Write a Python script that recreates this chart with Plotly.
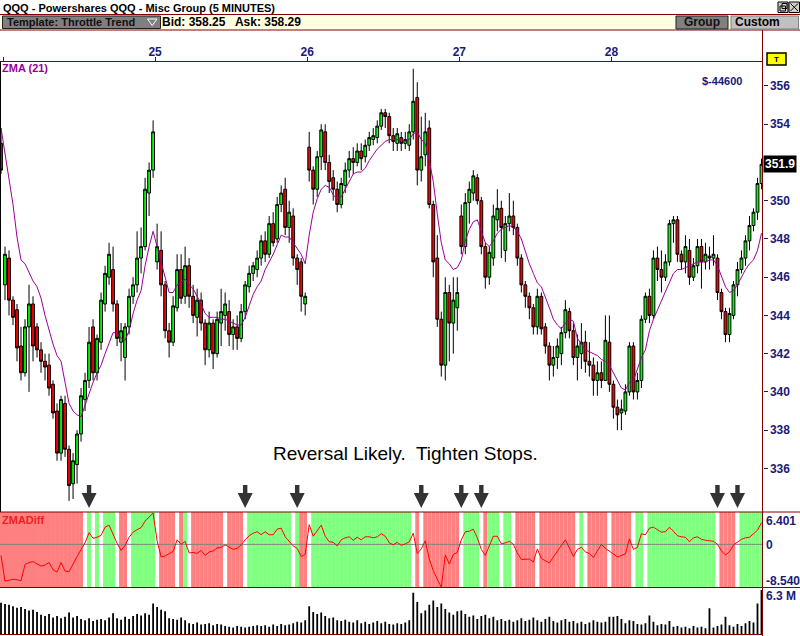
import plotly.graph_objects as go

# ---------------- data ----------------
DAY_LABELS = ["", "25", "26", "27", "28"]
DAY_TICK_BARS = [0.5, 38.5, 76.5, 114.5, 152.5]
# 352 is hidden behind the last-price box in the reference
PRICE_TICKS = [336, 338, 340, 342, 344, 346, 348, 350, 354, 356]

OPEN = [
    353.0, 345.6, 347.0, 344.8, 344.3, 342.4, 341.0, 343.4, 344.6, 343.4,
    342.2, 341.6, 341.4, 340.4, 339.0, 336.8, 339.4, 337.0, 335.2, 336.2,
    337.8, 339.6, 340.6, 343.4, 341.0, 342.6, 344.6, 346.0, 346.4, 344.6,
    342.6, 341.8, 343.4, 345.0, 345.6, 347.0, 347.6, 350.4, 351.6, 346.8,
    347.4, 345.6, 343.2, 342.6, 344.4, 346.4, 345.0, 346.6, 345.0, 343.9,
    344.8, 343.6, 342.2, 343.6, 342.0, 343.6, 344.0, 344.2, 343.0, 343.4,
    342.8, 344.2, 345.5, 346.2, 346.4, 347.0, 347.9, 347.2, 348.8, 348.0,
    349.8, 350.6, 348.6, 349.2, 347.0, 346.8, 344.6, 352.8, 351.6, 350.6,
    352.3, 353.6, 352.0, 351.2, 350.6, 349.8, 350.8, 351.6, 352.2, 352.0,
    352.6, 352.3, 352.9, 353.2, 353.3, 353.9, 354.6, 354.4, 353.4, 353.0,
    353.3, 353.0, 352.9, 353.6, 355.4, 351.6, 352.4, 353.8, 349.8, 347.0,
    343.8, 341.4, 345.2, 343.6, 344.4, 349.2, 347.6, 349.9, 350.4, 351.2,
    350.0, 347.6, 346.0, 347.0, 349.0, 349.6, 347.4, 348.8, 349.2, 348.6,
    347.0, 345.6, 345.0, 344.4, 343.4, 345.0, 343.4, 342.4, 341.4, 341.8,
    342.0, 343.1, 344.2, 343.2, 341.8, 342.0, 342.6, 341.6, 341.4, 340.6,
    341.0, 340.6, 342.6, 340.4, 339.2, 338.9, 339.0, 340.0, 342.4, 340.0,
    340.6, 343.8, 345.0, 344.0, 347.0, 346.4, 346.0, 346.8, 348.8, 349.0,
    347.2, 346.8, 347.4, 346.0, 346.6, 347.6, 346.8, 347.1, 347.0, 347.0,
    345.2, 344.2, 343.0, 344.0, 345.6, 346.4, 347.0, 347.9, 348.7, 349.4,
    350.9,
]
HIGH = [
    353.8, 347.6, 347.4, 345.0, 344.6, 343.4, 343.8, 345.6, 345.0, 343.6,
    342.6, 342.0, 342.0, 340.6, 339.4, 339.8, 339.8, 337.2, 336.8, 338.0,
    340.2, 341.0, 343.4, 343.8, 343.0, 345.2, 346.6, 347.8, 347.6, 344.8,
    343.6, 343.6, 345.4, 346.0, 348.4, 348.6, 351.2, 352.0, 354.2, 348.8,
    348.4, 345.8, 343.6, 345.0, 347.2, 347.2, 347.6, 347.0, 345.6, 345.4,
    345.2, 343.8, 344.2, 343.8, 344.2, 345.4, 345.2, 344.8, 343.8, 344.0,
    344.6, 345.8, 346.6, 346.8, 347.4, 348.2, 348.4, 349.2, 349.4, 350.2,
    350.8, 351.2, 350.0, 349.6, 347.2, 347.0, 345.2, 353.6, 351.8, 352.6,
    354.0, 354.0, 352.4, 351.6, 351.0, 351.2, 352.0, 352.6, 352.8, 353.0,
    353.0, 353.2, 353.6, 353.8, 354.2, 354.8, 354.8, 354.6, 353.8, 353.8,
    353.6, 353.6, 354.0, 356.9, 356.2, 354.4, 354.6, 354.2, 350.0, 348.2,
    344.2, 346.0, 345.6, 346.0, 346.0, 349.8, 350.4, 351.0, 351.6, 351.4,
    350.2, 347.8, 347.6, 349.8, 350.6, 350.0, 349.2, 350.4, 350.0, 348.8,
    347.2, 345.8, 345.2, 344.6, 345.4, 345.2, 343.6, 342.6, 342.4, 342.8,
    343.4, 344.8, 344.4, 343.6, 343.0, 343.6, 343.2, 342.6, 341.8, 341.6,
    341.6, 344.0, 344.0, 340.6, 339.6, 339.6, 340.4, 342.6, 342.6, 341.0,
    344.0, 345.2, 345.4, 347.4, 347.6, 347.4, 347.2, 349.0, 349.2, 349.2,
    347.4, 348.2, 348.0, 347.0, 348.0, 348.0, 347.8, 347.6, 348.2, 347.2,
    345.4, 344.4, 344.4, 345.8, 346.8, 347.4, 348.2, 349.2, 349.6, 351.2,
    352.2,
]
LOW = [
    351.4, 344.8, 344.0, 343.5, 341.6, 340.6, 340.8, 340.0, 341.6, 341.8,
    341.0, 340.6, 339.8, 338.6, 336.4, 336.4, 336.6, 334.3, 334.4, 335.2,
    337.4, 339.0, 340.2, 340.6, 340.6, 342.2, 344.2, 345.6, 344.2, 342.4,
    341.6, 340.6, 343.0, 344.6, 345.2, 346.2, 347.4, 349.2, 351.2, 346.4,
    345.0, 342.8, 341.8, 342.4, 344.2, 344.6, 344.6, 344.4, 343.6, 342.9,
    343.2, 341.4, 341.8, 341.2, 341.8, 342.4, 343.2, 342.4, 342.2, 342.2,
    342.6, 343.8, 345.2, 345.8, 346.0, 346.6, 346.8, 347.0, 347.6, 347.8,
    349.4, 348.2, 347.8, 346.6, 345.6, 344.2, 344.0, 351.0, 349.8, 350.2,
    351.6, 351.6, 350.4, 350.0, 349.4, 349.6, 350.4, 351.2, 351.4, 351.8,
    351.6, 352.0, 352.6, 352.9, 353.0, 353.7, 353.8, 353.0, 352.6, 352.6,
    352.6, 352.7, 352.6, 353.2, 350.8, 351.0, 351.8, 349.6, 346.0, 343.4,
    340.8, 340.6, 341.6, 342.0, 343.2, 347.2, 347.2, 348.8, 350.0, 349.8,
    347.2, 345.4, 345.6, 346.6, 348.4, 347.0, 346.8, 348.4, 348.2, 346.6,
    345.2, 344.4, 343.8, 343.0, 343.0, 343.0, 342.0, 340.6, 340.8, 341.2,
    341.4, 342.8, 342.8, 341.4, 340.6, 341.2, 341.0, 340.8, 339.8, 339.8,
    340.2, 340.6, 340.0, 338.6, 338.0, 338.0, 338.8, 339.8, 339.6, 339.6,
    340.2, 343.6, 343.6, 343.8, 345.8, 345.2, 345.8, 346.6, 347.8, 346.8,
    346.4, 346.2, 345.6, 345.8, 346.2, 345.4, 346.4, 346.4, 346.6, 344.8,
    343.8, 342.6, 342.6, 343.8, 345.0, 346.2, 346.6, 347.4, 348.4, 349.0,
    350.6,
]
CLOSE = [
    351.6, 347.2, 344.8, 343.9, 342.3, 341.0, 343.4, 344.6, 342.4, 342.2,
    341.6, 341.3, 340.2, 338.9, 336.8, 339.6, 337.0, 335.1, 336.4, 337.8,
    339.8, 340.6, 342.6, 341.0, 342.8, 344.8, 346.2, 347.2, 344.6, 342.8,
    343.2, 343.4, 345.0, 345.6, 347.0, 347.6, 350.6, 351.6, 353.6, 347.6,
    345.6, 343.2, 342.6, 344.5, 346.4, 344.9, 346.6, 345.0, 344.0, 344.8,
    343.6, 342.2, 343.6, 342.0, 343.8, 344.2, 344.6, 343.0, 343.4, 342.8,
    344.2, 345.6, 346.2, 346.6, 347.0, 347.9, 347.2, 348.8, 347.8, 349.8,
    350.4, 348.6, 349.4, 347.0, 346.4, 345.0, 345.0, 351.6, 350.6, 352.3,
    353.7, 352.0, 351.0, 350.6, 349.8, 350.9, 351.6, 352.2, 352.0, 352.6,
    352.2, 352.9, 353.3, 353.4, 353.9, 354.6, 354.4, 353.4, 353.1, 353.5,
    353.0, 353.2, 353.6, 355.2, 351.6, 352.3, 353.6, 349.8, 346.8, 343.8,
    341.4, 345.2, 343.6, 344.8, 345.2, 347.6, 349.9, 350.6, 351.3, 350.0,
    347.6, 346.0, 347.3, 349.2, 349.6, 348.6, 348.8, 349.2, 348.6, 347.0,
    345.6, 345.0, 344.4, 343.4, 345.0, 343.3, 342.4, 341.4, 341.8, 342.4,
    343.1, 344.3, 343.2, 341.8, 342.4, 342.6, 341.6, 341.4, 340.6, 341.0,
    340.6, 342.7, 340.4, 339.2, 338.8, 339.1, 340.0, 342.4, 340.0, 340.6,
    343.8, 345.0, 344.0, 347.0, 346.4, 346.0, 346.8, 348.8, 349.0, 347.2,
    346.8, 347.6, 346.0, 346.6, 347.6, 346.8, 347.2, 347.0, 347.2, 345.2,
    344.2, 343.0, 344.1, 345.6, 346.4, 347.0, 347.9, 348.7, 349.4, 350.9,
    351.9,
]
ZMA = [
    353.8, 352.5, 351.2, 349.8, 348.1, 346.9, 346.7, 346.2, 345.8, 345.5,
    344.9, 344.0, 343.2, 342.5, 341.9, 341.6, 340.5, 339.4, 339.0, 338.8,
    338.7, 339.3, 340.0, 340.5, 341.0, 341.4, 342.0, 342.6, 343.1, 343.1,
    342.8, 342.7, 343.2, 344.1, 344.8, 345.3, 346.6, 347.6, 348.4, 347.6,
    346.8, 346.1, 345.2, 345.2, 345.6, 345.7, 345.9, 345.6, 345.4, 345.0,
    344.6, 344.1, 343.9, 343.9, 343.9, 343.8, 343.8, 343.7, 343.6, 343.5,
    343.5, 343.9, 344.5, 345.1, 345.5, 345.8, 346.4, 346.8, 347.2, 347.7,
    348.2, 348.1, 348.1, 347.8, 347.5, 347.2, 346.7, 348.2, 349.4, 350.1,
    350.6, 350.8, 350.7, 350.3, 350.1, 350.2, 350.6, 351.0, 351.4, 351.5,
    351.5, 351.7, 352.1, 352.4, 352.7, 352.9, 353.1, 353.2, 353.2, 353.2,
    353.2, 353.1, 353.2, 353.5, 353.6, 353.2, 353.0, 352.1, 351.0, 349.3,
    347.8, 346.9, 346.7, 346.4, 346.5, 346.9, 347.9, 348.5, 348.9, 349.0,
    348.4, 347.8, 347.6, 347.9, 348.3, 348.5, 348.6, 348.7, 348.6, 348.4,
    348.0, 347.3, 346.7, 346.2, 345.7, 345.5, 345.0, 344.4, 343.8, 343.5,
    343.3, 343.6, 343.8, 343.7, 342.8, 342.5, 342.2, 342.1, 342.0, 341.9,
    341.7, 341.6, 341.4, 341.0, 340.6, 340.2, 340.1, 340.5, 340.6, 341.2,
    341.8, 342.2, 343.2, 343.8, 344.3, 344.7, 345.2, 345.8, 346.2, 346.4,
    346.4, 346.5, 346.6, 346.7, 346.8, 346.8, 346.8, 346.9, 346.9, 346.6,
    346.1, 345.5, 345.2, 345.3, 345.6, 346.0, 346.4, 346.7, 346.9, 347.4,
    348.3,
]
ZMA_DIFF = [
    -2.2, -7.3, -7.1, -6.9, -7.0, -7.2, -4.0, -3.6, -3.4, -3.8,
    -4.3, -4.1, -3.6, -5.0, -5.5, -3.6, -5.3, -5.4, -3.8, -2.4,
    -1.0, 0.3, 2.3, 1.2, 1.4, 1.8, 3.4, 3.8, 2.0, 0.2,
    -1.2, -0.2, 1.4, 2.4, 2.9, 3.3, 4.6, 5.3, 6.2, 0.7,
    -2.5, -2.3, -1.9, -1.4, 0.9, 0.0, 0.6, -1.7, -1.6, -1.8,
    -1.2, -2.2, -1.5, -1.3, -0.7, -0.6, -0.1, -0.6, -1.0, -0.8,
    -0.1, 0.9, 1.7, 2.2, 2.5, 1.9, 2.5, 1.9, 1.9, 3.0,
    3.2, 1.5, 0.7, -0.3, -0.8, -2.4, -2.0, 3.9, 1.6, 2.8,
    3.8, 1.6, 0.5, 0.4, -0.3, 0.9, 1.3, 1.5, 0.8, 1.4,
    0.9, 1.5, 1.5, 1.3, 1.5, 2.1, 1.6, 0.3, -0.1, 0.4,
    -0.2, 0.1, 0.5, 2.2, -1.8, -0.9, 0.7, -2.9, -5.2, -6.9,
    -8.5, -2.1, -3.9, -2.0, -1.6, 0.9, 2.5, 2.6, 3.0, 1.3,
    -1.0, -2.2, -0.4, 1.6, 1.6, 0.1, 0.3, 0.6, 0.0, -1.7,
    -3.0, -2.9, -2.9, -3.5, -0.9, -2.8, -3.2, -3.7, -2.5, -1.4,
    -0.3, 0.9, -0.7, -2.4, -1.0, -0.6, -1.5, -1.8, -2.6, -1.2,
    0.0, -0.8, -1.3, -1.9, -2.5, -2.2, -1.9, 1.1, -1.0, -0.6,
    2.1, 1.9, 3.2, 3.4, 2.9, 2.4, 2.5, 3.4, 2.6, 1.7,
    1.5, 1.4, 0.5, 1.3, 1.5, 1.0, 0.8, 0.7, 0.6, 0.0,
    -1.3, -2.1, -1.5, -0.1, 0.4, 1.0, 1.3, 1.4, 2.1, 2.8,
    4.3,
]
# background state of the ZMADiff panel as runs: (state, number of bars)
BAND_RUNS = [
    ("R", 21), ("W", 1), ("G", 1), ("W", 1), ("G", 1), ("W", 1), ("G", 3), ("W", 1),
    ("R", 2), ("W", 1), ("G", 6), ("W", 1), ("R", 4), ("W", 1), ("R", 1), ("G", 1),
    ("W", 1), ("R", 8), ("W", 1), ("R", 4), ("W", 1), ("G", 11), ("W", 1), ("G", 1),
    ("R", 2), ("W", 1), ("G", 25), ("W", 1), ("R", 1), ("W", 1), ("R", 9), ("W", 1),
    ("G", 4), ("W", 1), ("R", 1), ("G", 3), ("W", 1), ("G", 2), ("W", 1), ("R", 5),
    ("W", 1), ("R", 9), ("W", 1), ("G", 1), ("W", 1), ("R", 5), ("W", 1), ("R", 5),
    ("W", 1), ("G", 2), ("W", 1), ("G", 17), ("W", 1), ("R", 4), ("W", 1), ("G", 6),
]
VOLUME_M = [
    4.5, 4.3, 4.2, 4.0, 3.8, 3.9, 3.6, 3.4, 3.5, 3.2,
    2.8, 2.6, 2.9, 2.4, 2.6, 2.3, 2.5, 3.1, 2.4, 2.6,
    2.2, 2.0, 2.3, 1.9, 2.1, 2.2, 2.0, 2.4, 3.0, 2.3,
    2.1, 2.5, 2.2, 2.6, 2.9, 2.7, 3.0, 2.8, 4.4, 3.9,
    3.5, 3.3, 2.3, 2.2, 2.1, 2.4, 2.0, 1.6, 1.5, 1.7,
    1.4, 1.5, 1.6, 1.3, 1.5, 1.4, 1.2, 1.1, 1.0, 1.2,
    1.1, 1.0, 1.1, 1.2, 1.3, 1.2, 1.3, 1.1, 1.4, 1.2,
    1.5, 1.3, 1.4, 1.6, 1.8, 1.7, 2.0,
    4.0, 3.2, 2.9, 3.1, 2.6, 2.3, 2.4, 2.0, 1.9, 2.1,
    1.8, 1.7, 2.0, 1.6, 1.8, 1.5, 1.7, 1.9, 1.6, 1.8,
    1.5, 1.4, 1.6, 1.5, 1.7, 2.0, 5.9, 4.6, 3.0, 3.4,
    4.2, 4.8, 3.9, 4.4, 3.6, 3.1, 2.8, 3.3,
    3.4, 2.9, 2.5, 2.7, 2.2, 2.6, 2.8, 2.3, 2.5, 2.0,
    2.2, 1.9, 2.1, 1.8, 2.0, 2.3, 1.9, 2.1, 2.4, 2.0,
    1.8, 2.2, 2.5, 1.9, 1.7, 2.0, 2.2, 1.8, 1.9, 1.6,
    1.8, 1.5, 1.7, 2.0, 1.8, 1.7, 1.8, 2.5,
    2.5, 2.6, 2.2, 1.6, 2.0, 1.9, 1.5, 1.4, 1.6, 2.7,
    1.8, 1.3, 1.5, 1.4, 1.9, 1.1, 1.2, 1.0, 1.1, 0.9,
    1.2, 1.0, 1.1, 0.9, 3.7, 1.0, 1.2, 1.4, 2.5, 1.3,
    1.1, 1.5, 1.2, 1.6, 1.9, 1.7, 4.4, 6.3,
]
ARROW_BARS = [22, 61, 74, 105, 115, 120, 179, 184]

DIFF_MAX, DIFF_MIN = 6.401, -8.540
LAST_PRICE_LABEL = "351.9"
VOLUME_MAX_LABEL = "6.3 M"
PNL_LABEL = "$-44600"

N = len(CLOSE)
for arr in (OPEN, HIGH, LOW, ZMA, ZMA_DIFF, VOLUME_M):
    assert len(arr) == N, len(arr)
BAND = [s for s, n in BAND_RUNS for _ in range(n)]
assert len(BAND) == N, len(BAND)
X = list(range(N))

# ---------------- styling / geometry ----------------
W, H = 800, 636
PLOT_R = 762.5
FONT = "Arial, Liberation Sans, sans-serif"
NAVY = "#1a1a78"
DARKRED = "#800000"
PURPLE = "#990099"
BAND_COLORS = {"R": "#ff8080", "G": "#80ff80", "W": "#ffffff"}

def fx(p):
    return p / W

def fy(p):
    return 1 - p / H

P_TOP, P_BOT = 357.28, 333.72          # price range of main panel
X_MIN, X_MAX = -0.25, N - 1 + 0.25
ARROW_TIP = 333.93

fig = go.Figure()

fig.add_trace(go.Candlestick(
    x=X, open=OPEN, high=HIGH, low=LOW, close=CLOSE,
    increasing=dict(fillcolor="#00ff00", line=dict(color="black", width=1)),
    decreasing=dict(fillcolor="#ff0000", line=dict(color="black", width=1)),
    whiskerwidth=0, xaxis="x", yaxis="y", hoverinfo="skip",
))
fig.add_trace(go.Scatter(x=X, y=ZMA, mode="lines", line=dict(color=PURPLE, width=1),
                         xaxis="x", yaxis="y", hoverinfo="skip"))

# ZMADiff panel
fig.add_trace(go.Bar(x=X, y=[DIFF_MAX - DIFF_MIN] * N, base=DIFF_MIN, width=1.0,
                     marker=dict(color=[BAND_COLORS[s] for s in BAND], line=dict(width=0)),
                     xaxis="x", yaxis="y2", hoverinfo="skip"))
fig.add_trace(go.Scatter(x=[X_MIN, X_MAX], y=[0, 0], mode="lines",
                         line=dict(color="#808080", width=1), xaxis="x", yaxis="y2",
                         hoverinfo="skip"))
fig.add_trace(go.Scatter(x=X, y=ZMA_DIFF, mode="lines", line=dict(color="#ff0000", width=1),
                         xaxis="x", yaxis="y2", hoverinfo="skip"))

# volume panel
fig.add_trace(go.Bar(x=X, y=VOLUME_M, width=0.45, marker=dict(color="black", line=dict(width=0)),
                     xaxis="x", yaxis="y3", hoverinfo="skip"))

shapes = []

def rect(x0, y0, x1, y1, fill=None, line=None, lw=1):
    shapes.append(dict(type="rect", xref="paper", yref="paper",
                       x0=fx(x0), x1=fx(x1), y0=fy(y1), y1=fy(y0),
                       fillcolor=fill if fill else "rgba(0,0,0,0)",
                       line=dict(color=line if line else "rgba(0,0,0,0)", width=lw if line else 0),
                       layer="above"))

def hline(x0, x1, y, color=DARKRED, lw=1):
    shapes.append(dict(type="line", xref="paper", yref="paper", x0=fx(x0), x1=fx(x1),
                       y0=fy(y), y1=fy(y), line=dict(color=color, width=lw), layer="above"))

def vline(x, y0, y1, color=DARKRED, lw=1):
    shapes.append(dict(type="line", xref="paper", yref="paper", x0=fx(x), x1=fx(x),
                       y0=fy(y0), y1=fy(y1), line=dict(color=color, width=lw), layer="above"))

# header
rect(0, 14.5, 800, 29.5, fill="#ffffe1")
hline(0, 800, 14.5)
hline(0, 800, 30)
rect(2.5, 16, 160.5, 28.5, fill="#7f7f7f", line="#202020")
shapes.append(dict(type="path", xref="paper", yref="paper", layer="above",
                   path="M %f,%f L %f,%f L %f,%f Z" % (fx(147.5), fy(19), fx(157), fy(19), fx(152.25), fy(25.5)),
                   line=dict(color="white", width=1), fillcolor="rgba(0,0,0,0)"))
rect(676, 16, 728, 29, fill="#808080", line="#202020")
rect(731, 16, 798.5, 29, fill="#c0c0c0", line="#808080")
# window buttons
rect(778, 2, 788, 12.5, fill="#d4d0c8", line="black")
rect(780, 6, 785.5, 11, line="black")
rect(782, 3.5, 787, 8.5, line="black")
rect(789, 2, 799.5, 12.5, fill="#d4d0c8", line="black")
shapes.append(dict(type="line", xref="paper", yref="paper", x0=fx(790.5), x1=fx(798), y0=fy(3.5), y1=fy(11),
                   line=dict(color="black", width=1), layer="above"))
shapes.append(dict(type="line", xref="paper", yref="paper", x0=fx(798), x1=fx(790.5), y0=fy(3.5), y1=fy(11),
                   line=dict(color="black", width=1), layer="above"))

# frame lines
vline(PLOT_R, 30, 636)
hline(0, PLOT_R, 61.5)
vline(0.5, 61.5, 512, color="black")
hline(0, 800, 512)
hline(0, 800, 587.5)
hline(0, PLOT_R, 634.5)
# T tag
rect(767, 53, 786, 65, fill="#ffff00", line="black", lw=1.5)

# signal arrows
for b in ARROW_BARS:
    shapes.append(dict(type="path", xref="x", yref="y", xsizemode="pixel", ysizemode="pixel",
                       xanchor=b, yanchor=ARROW_TIP, layer="above",
                       path="M0,0 L-7.5,15 L-2.2,15 L-2.2,23 L2.2,23 L2.2,15 L7.5,15 Z",
                       fillcolor="#333333", line=dict(width=0)))

ann = []

def label(text, x, y, size=11, color="black", xanchor="left", yanchor="middle", bold=True, bg=None):
    ann.append(dict(text=("<b>%s</b>" % text) if bold else text, xref="paper", yref="paper",
                    x=fx(x), y=fy(y), xanchor=xanchor, yanchor=yanchor, showarrow=False,
                    font=dict(family=FONT, size=size, color=color),
                    bgcolor=bg, borderpad=0))

label("QQQ - Powershares QQQ - Misc Group (5 MINUTES)", 2, 7.5, size=11)
label("Template: Throttle Trend", 6, 22.5, size=11, color="#101010")
label("Bid: 358.25\u00a0\u00a0 Ask: 358.29", 161, 22.5, size=12)
label("Group", 702, 22.5, size=12, color="#101010", xanchor="center")
label("Custom", 734, 22.5, size=12)
label("T", 776.5, 59.5, size=8, xanchor="center")
label("ZMA (21)", 1, 67.5, size=11, color=PURPLE)
label(PNL_LABEL, 722, 81, size=11, color=NAVY, xanchor="center")
label("Reversal Likely.\u00a0 Tighten Stops.", 405.5, 454, size=19, xanchor="center", bold=False)
label("ZMADiff", 1, 520, size=11, color="#f02020")
label("6.401", 765, 520.5, size=12, color=NAVY)
label("0", 765, 545, size=12, color=NAVY)
label("-8.540", 765, 580.5, size=12, color=NAVY)
label(VOLUME_MAX_LABEL, 765, 596, size=12, color=NAVY)

ann.append(dict(text="<b>%s</b>" % LAST_PRICE_LABEL, xref="paper", yref="y", x=fx(PLOT_R + 0.5), y=CLOSE[-1],
                xanchor="left", yanchor="middle", showarrow=False, bgcolor="black", borderpad=1,
                font=dict(family=FONT, size=12, color="white")))

fig.update_layout(
    width=W, height=H, autosize=False,
    margin=dict(l=0, r=0, t=0, b=0),
    paper_bgcolor="white", plot_bgcolor="white",
    showlegend=False, hovermode=False, boxgap=0.0,
    font=dict(family=FONT),
    xaxis=dict(domain=[0, fx(PLOT_R)], range=[X_MIN, X_MAX], anchor="y", side="top",
               tickvals=DAY_TICK_BARS, ticktext=["<b>%s</b>" % t for t in DAY_LABELS],
               ticks="outside", ticklen=4, tickcolor=NAVY, tickwidth=1,
               tickfont=dict(family=FONT, size=12, color=NAVY), ticklabelstandoff=-4,
               showgrid=False, zeroline=False, showline=False,
               rangeslider=dict(visible=False), fixedrange=True),
    yaxis=dict(domain=[fy(512), fy(61.5)], range=[P_BOT, P_TOP], anchor="x", side="right",
               tickvals=PRICE_TICKS, ticktext=["<b>%d</b>" % v for v in PRICE_TICKS],
               ticks="outside", ticklen=4, tickcolor=NAVY, tickwidth=1,
               tickfont=dict(family=FONT, size=12, color=NAVY),
               showgrid=False, zeroline=False, showline=False, fixedrange=True),
    yaxis2=dict(domain=[fy(587.5), fy(512)], range=[DIFF_MIN, DIFF_MAX], anchor="x",
                visible=False, fixedrange=True),
    yaxis3=dict(domain=[fy(634.5), fy(587.5)], range=[0, 6.65], anchor="x",
                visible=False, fixedrange=True),
    shapes=shapes, annotations=ann,
)

fig.write_html(
    "out.html",
    config={"displayModeBar": False, "staticPlot": True},
    post_script="document.body.style.margin='0';document.body.style.overflow='hidden';",
)
